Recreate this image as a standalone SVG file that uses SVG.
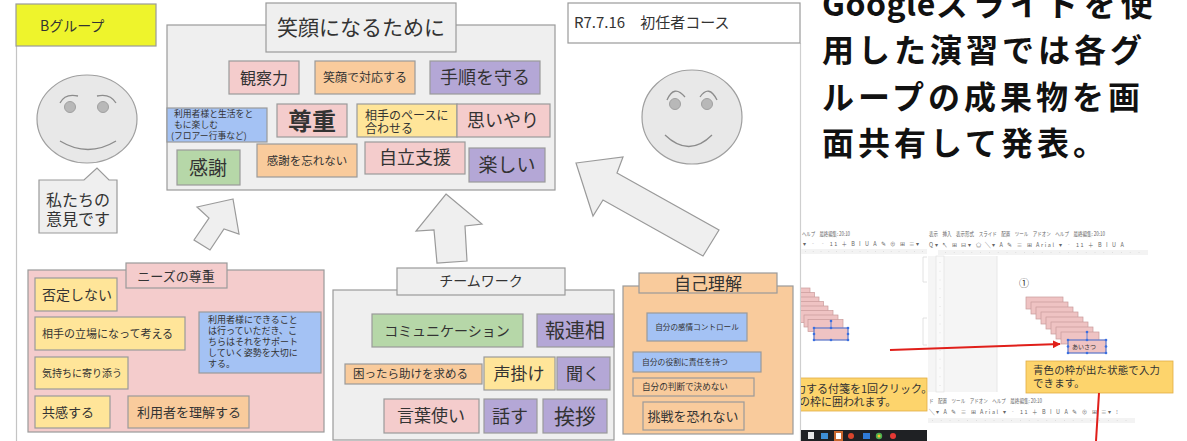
<svg xmlns="http://www.w3.org/2000/svg" width="1187" height="441" viewBox="0 0 1187 441">
  <defs>
    <style>
      .t { font-family: "Noto Sans CJK JP", "Noto Sans", sans-serif; fill: #333; }
      .c { text-anchor: middle; }
      .box { stroke: #9a9a9a; stroke-width: 1.2; }
      .gy { fill: #efefef; }
      .pk { fill: #f4cccc; }
      .or { fill: #f9cb9c; }
      .ye { fill: #ffe599; }
      .gr { fill: #b6d7a8; }
      .pu { fill: #b4a7d6; }
      .bl { fill: #a4c2f4; }
      .face { fill: #e8e8e8; stroke: #9f9f9f; stroke-width: 1.2; }
      .eye { fill: #b8b8b8; stroke: #a0a0a0; stroke-width: 1; }
      .line { fill: none; stroke: #8c8c8c; stroke-width: 1.3; }
      .arrow { fill: #efefef; stroke: #9a9a9a; stroke-width: 1.2; }
      .big { font-family: "Noto Sans CJK JP", sans-serif; font-weight: 700; font-size: 32px; fill: #111; letter-spacing: 4px; }
      .ui { font-family: "Noto Sans CJK JP", sans-serif; font-size: 5.5px; fill: #666; }
      .note { font-family: "Noto Sans CJK JP", sans-serif; fill: #333; }
      .stk { fill: #efc3c3; stroke: #c99a9a; stroke-width: 0.7; }
      .sel { fill: none; stroke: #3b6fe0; stroke-width: 0.9; }
      .hd { fill: #3b6fe0; }
      .red { stroke: #e01f1a; stroke-width: 2; fill: none; }
    </style>
    <marker id="redhead" viewBox="0 0 10 10" refX="9" refY="5" markerWidth="4" markerHeight="4" orient="auto">
      <path d="M0,0 L10,5 L0,10 z" fill="#e01f1a"/>
    </marker>
    <clipPath id="clipA"><rect x="801" y="228" width="127" height="213"/></clipPath>
  </defs>

  <rect width="1187" height="441" fill="#ffffff"/>

  <!-- slide edges -->
  <line x1="16.5" y1="46" x2="16.5" y2="441" stroke="#c4c4c4" stroke-width="1.2"/>
  <line x1="800.5" y1="43" x2="800.5" y2="441" stroke="#cfcfcf" stroke-width="1.2"/>

  <!-- group label -->
  <g id="group-label">
    <rect x="16" y="4" width="140" height="42" fill="#eef42c" class="box"/>
    <text x="40" y="31" class="t" font-size="14">Bグループ</text>
  </g>

  <!-- left face -->
  <g id="face-left">
    <ellipse cx="87" cy="119" rx="50" ry="44" class="face"/>
    <circle cx="70" cy="107" r="5.5" class="eye"/>
    <circle cx="103" cy="107" r="5.5" class="eye"/>
    <path d="M60,103 Q65,93 78,96" class="line"/>
    <path d="M97,96 Q110,93 116,103" class="line"/>
    <path d="M60,141 Q88,158 116,141" class="line"/>
  </g>

  <!-- speech bubble -->
  <g id="bubble">
    <path d="M39,180 H84 L97,168 L109,180 H117 V233 H39 Z" class="gy box"/>
    <text x="46" y="206" class="t" font-size="16">私たちの</text>
    <text x="46" y="225" class="t" font-size="16">意見です</text>
  </g>

  <!-- main board -->
  <g id="board-main">
    <rect x="167" y="25" width="388" height="165" class="gy box"/>
    <rect x="266" y="3" width="190" height="49" class="gy box"/>
    <text x="361" y="35" class="t c" font-size="21">笑顔になるために</text>
  </g>
  <g id="n-kansatsu"><rect x="229" y="61" width="70" height="33" class="pk box"/><text x="264" y="83.5" class="t c" font-size="16">観察力</text></g>
  <g id="n-egao"><rect x="315" y="61" width="100" height="33" class="or box"/><text x="365" y="82" class="t c" font-size="12">笑顔で対応する</text></g>
  <g id="n-tejun"><rect x="430" y="61" width="110" height="33" class="pu box"/><text x="485" y="84" class="t c" font-size="18">手順を守る</text></g>
  <g id="n-tanoshimu"><rect x="167" y="108" width="100" height="34" class="bl box"/>
    <text x="174" y="117" class="t" font-size="8.8">利用者様と生活をと</text>
    <text x="174" y="128" class="t" font-size="8.8">もに楽しむ</text>
    <text x="171" y="139" class="t" font-size="8.8">(フロアー行事など)</text></g>
  <g id="n-sonchou"><rect x="277" y="104" width="70" height="33" class="pk box"/><text x="312" y="129.5" class="t c" font-size="24" font-weight="700">尊重</text></g>
  <g id="n-pace"><rect x="357" y="104" width="100" height="33" class="ye box"/>
    <text x="365" y="120" class="t" font-size="12">相手のペースに</text>
    <text x="365" y="133" class="t" font-size="12">合わせる</text></g>
  <g id="n-omoiyari"><rect x="457" y="104" width="93" height="33" class="pk box"/><text x="503" y="127" class="t c" font-size="18">思いやり</text></g>
  <g id="n-kansha"><rect x="177" y="150" width="63" height="35" class="gr box"/><text x="208" y="175" class="t c" font-size="19">感謝</text></g>
  <g id="n-wasurenai"><rect x="257" y="144" width="100" height="33" class="or box"/><text x="307" y="165" class="t c" font-size="11.5">感謝を忘れない</text></g>
  <g id="n-jiritsu"><rect x="365" y="142" width="100" height="32" class="pk box"/><text x="415" y="164" class="t c" font-size="18">自立支援</text></g>
  <g id="n-tanoshii"><rect x="469" y="148" width="76" height="34" class="pu box"/><text x="507" y="172" class="t c" font-size="19">楽しい</text></g>

  <!-- course label -->
  <g id="course">
    <rect x="568" y="3" width="232" height="40" fill="#ffffff" class="box"/>
    <text x="574" y="28" class="t" font-size="15">R7.7.16　初任者コース</text>
  </g>

  <!-- right face -->
  <g id="face-right">
    <ellipse cx="692" cy="117" rx="50" ry="47" class="face"/>
    <circle cx="675" cy="104" r="5.5" class="eye"/>
    <circle cx="707" cy="104" r="5.5" class="eye"/>
    <path d="M667,100 Q674,84 685,97" class="line"/>
    <path d="M700,97 Q709,84 717,100" class="line"/>
    <path d="M665,135 Q689,158 712,135" class="line"/>
  </g>

  <!-- connectors (block arrows) -->
  <g id="connectors">
    <polygon points="233,199 197,207 209,218 194,240 210,250 224,229 239,234" class="arrow"/>
    <polygon points="446,194 482,224 465,226 467,261 437,263 434,230 416,231" class="arrow"/>
    <polygon points="576,163 623,157 617,173 719,230 703,256 603,200 593,216" class="arrow"/>
  </g>

  <!-- needs board -->
  <g id="board-needs">
    <rect x="28" y="270" width="296" height="162" class="pk box"/>
    <rect x="126" y="263" width="101" height="25" class="pk box"/>
    <text x="176" y="280.5" class="t c" font-size="13">ニーズの尊重</text>
  </g>
  <g id="n-hitei"><rect x="35" y="278" width="82" height="33" class="ye box"/><text x="42" y="299.5" class="t" font-size="14">否定しない</text></g>
  <g id="n-tachiba"><rect x="35" y="317" width="150" height="33" class="ye box"/><text x="42" y="337.5" class="t" font-size="11">相手の立場になって考える</text></g>
  <g id="n-kimochi"><rect x="35" y="357" width="93" height="32" class="ye box"/><text x="42" y="376.5" class="t" font-size="10">気持ちに寄り添う</text></g>
  <g id="n-kyoukan"><rect x="35" y="396" width="75" height="32" class="ye box"/><text x="42" y="416.5" class="t" font-size="13">共感する</text></g>
  <g id="n-rikai"><rect x="128" y="396" width="121" height="32" class="or box"/><text x="137" y="416.5" class="t" font-size="13">利用者を理解する</text></g>
  <g id="n-support"><rect x="199" y="312" width="122" height="61" class="bl box"/>
    <text x="208" y="323" class="t" font-size="9">利用者様にできること</text>
    <text x="208" y="334" class="t" font-size="9">は行っていただき、こ</text>
    <text x="208" y="345" class="t" font-size="9">ちらはそれをサポート</text>
    <text x="208" y="356" class="t" font-size="9">していく姿勢を大切に</text>
    <text x="208" y="367" class="t" font-size="9">する。</text></g>

  <!-- teamwork board -->
  <g id="board-team">
    <rect x="333" y="290" width="281" height="150" class="gy box"/>
    <rect x="397" y="268" width="168" height="27" class="gy box"/>
    <text x="481" y="286" class="t c" font-size="14">チームワーク</text>
  </g>
  <g id="n-comm"><rect x="372" y="314" width="151" height="33" class="gr box"/><text x="447" y="335.5" class="t c" font-size="14">コミュニケーション</text></g>
  <g id="n-hourensou"><rect x="537" y="314" width="77" height="33" class="pu box"/><text x="575" y="337.5" class="t c" font-size="20">報連相</text></g>
  <g id="n-tasuke"><rect x="345" y="364" width="137" height="20" class="or box"/><text x="353" y="378" class="t" font-size="11.5">困ったら助けを求める</text></g>
  <g id="n-koekake"><rect x="484" y="357" width="71" height="33" class="ye box"/><text x="519" y="379.5" class="t c" font-size="17">声掛け</text></g>
  <g id="n-kiku"><rect x="557" y="357" width="53" height="33" class="pu box"/><text x="583" y="379.5" class="t c" font-size="17">聞く</text></g>
  <g id="n-kotoba"><rect x="384" y="399" width="95" height="34" class="pk box"/><text x="431" y="422" class="t c" font-size="17">言葉使い</text></g>
  <g id="n-hanasu"><rect x="484" y="399" width="53" height="34" class="pu box"/><text x="510" y="422.5" class="t c" font-size="18">話す</text></g>
  <g id="n-aisatsu"><rect x="543" y="399" width="64" height="34" class="pu box"/><text x="575" y="424" class="t c" font-size="21">挨拶</text></g>

  <!-- self-understanding board -->
  <g id="board-self">
    <rect x="623" y="286" width="170" height="148" class="or box"/>
    <rect x="639" y="273" width="138" height="20" class="or box"/>
    <text x="708" y="289.5" class="t c" font-size="17">自己理解</text>
  </g>
  <g id="n-kanjou"><rect x="647" y="313" width="100" height="28" class="bl box"/><text x="697" y="329.7" class="t c" font-size="7.6">自分の感情コントロール</text></g>
  <g id="n-sekinin"><rect x="633" y="352" width="128" height="20" class="bl box"/><text x="642" y="364.7" class="t" font-size="7.8">自分の役割に責任を持つ</text></g>
  <g id="n-handan"><rect x="633" y="378" width="121" height="18" class="or box"/><text x="642" y="390" class="t" font-size="8.6">自分の判断で決めない</text></g>
  <g id="n-chousen"><rect x="643" y="402" width="101" height="28" class="or box"/><text x="693" y="420.5" class="t c" font-size="13">挑戦を恐れない</text></g>

  <!-- headline -->
  <g id="headline">
    <text x="822" y="15.5" class="big"><tspan letter-spacing="0.5">Google</tspan><tspan letter-spacing="5">スライドを使</tspan></text>
    <text x="822" y="62" class="big">用した演習では各グ</text>
    <text x="822" y="108.5" class="big">ループの成果物を画</text>
    <text x="822" y="155" class="big">面共有して発表。</text>
  </g>

  <!-- editor screenshots -->
  <g id="shot-left">
    <text x="802" y="236" class="ui" textLength="48" lengthAdjust="spacingAndGlyphs">ヘルプ　最終編集: 20:10</text>
    <text x="803" y="246" class="ui" letter-spacing="1.5">▾ ‐ ‐ 11 ＋ B I U A ✎ ⊕ ⊞ ≡▾</text>
    <rect x="801" y="249" width="126" height="5" fill="#f3f3f3"/>
    <path d="M805,251.5 H925" stroke="#c8c8c8" stroke-width="0.6" stroke-dasharray="0.8,7"/>
    <path d="M923,257 H927 M923,257 V282 H927 M923,318 V345 H927 M923,318 H927" stroke="#dadada" stroke-width="0.8" fill="none"/>
    <g clip-path="url(#clipA)">
      <rect x="790" y="288" width="20" height="12" class="stk"/>
      <rect x="790" y="292.5" width="24.5" height="12" class="stk"/>
      <rect x="790" y="297" width="29" height="12" class="stk"/>
      <rect x="792" y="301.5" width="31.5" height="12" class="stk"/>
      <rect x="796" y="306" width="32" height="12" class="stk"/>
      <rect x="800" y="310.5" width="33" height="12" class="stk"/>
      <rect x="804" y="315" width="34" height="12" class="stk"/>
      <rect x="808" y="319.5" width="35" height="12" class="stk"/>
      <rect x="780" y="378" width="147" height="33" fill="#fdd46c" stroke="#e2ad45" stroke-width="0.8"/>
      <text x="784" y="393" class="note" font-size="11">入力する付箋を1回クリック。</text>
      <text x="777" y="406" class="note" font-size="11">青色の枠に囲われます。</text>
    </g>
    <rect x="814" y="328" width="34" height="12" class="stk"/>
    <rect x="814" y="328" width="34" height="12" class="sel"/>
    <line x1="831" y1="321" x2="831" y2="328" stroke="#3b6fe0" stroke-width="0.8"/>
    <g class="hd">
      <circle cx="831" cy="321" r="1.3"/><circle cx="814" cy="328" r="1.3"/><circle cx="831" cy="328" r="1.3"/><circle cx="848" cy="328" r="1.3"/>
      <circle cx="814" cy="334" r="1.3"/><circle cx="848" cy="334" r="1.3"/>
      <circle cx="814" cy="340" r="1.3"/><circle cx="831" cy="340" r="1.3"/><circle cx="848" cy="340" r="1.3"/>
    </g>
    <rect x="801" y="430" width="126" height="11" fill="#1f2124"/>
    <rect x="808" y="432" width="6" height="7" fill="#e8e8e8"/>
    <rect x="821" y="433" width="7" height="6" fill="#3d8fd6"/>
    <rect x="834" y="431" width="9" height="10" fill="#c9682e"/>
    <rect x="836" y="433" width="5" height="6" fill="#ffffff"/>
    <circle cx="851" cy="436" r="3" fill="#d9452c"/>
    <rect x="863" y="433" width="7" height="6" fill="#2f7bd8"/>
    <circle cx="879" cy="436" r="3.2" fill="#4caf50"/>
    <circle cx="879" cy="436" r="1.5" fill="#fbc02d"/>
    <circle cx="893" cy="436" r="3" fill="#e53935"/>
  </g>

  <g id="shot-middle">
    <text x="929" y="236" class="ui" textLength="176" lengthAdjust="spacingAndGlyphs">表示　挿入　表示形式　スライド　配置　ツール　アドオン　ヘルプ　最終編集: 20:10</text>
    <text x="929" y="247" class="ui" letter-spacing="1.6">Q▾ ↖ ⊞ ⊟▾ ⬠ ╲▾ A ✎ ≡ ⊞  Arial  ▾ ‐ 11 ＋ B I U A</text>
    <rect x="938" y="250" width="210" height="5" fill="#f3f3f3"/>
    <path d="M945,252.5 H1146" stroke="#c8c8c8" stroke-width="0.6" stroke-dasharray="0.8,8"/>
    <rect x="928" y="256" width="69" height="136" fill="#f5f5f5"/>
    <rect x="936" y="256" width="8" height="136" fill="#fafafa" stroke="#dcdcdc" stroke-width="0.6"/>
    <path d="M940,262 V390" stroke="#c8c8c8" stroke-width="0.6" stroke-dasharray="0.8,8"/>
    <line x1="997" y1="256" x2="997" y2="392" stroke="#e2e2e2" stroke-width="0.8"/>
    <text x="1019" y="287" class="note" font-size="10" fill="#555">①</text>
    <rect x="1026" y="297" width="37" height="12" class="stk"/>
    <rect x="1031" y="302" width="37" height="12" class="stk"/>
    <rect x="1036" y="307" width="37" height="12" class="stk"/>
    <rect x="1041" y="312" width="37" height="12" class="stk"/>
    <rect x="1046" y="317" width="37" height="12" class="stk"/>
    <rect x="1051" y="322" width="37" height="12" class="stk"/>
    <rect x="1056" y="327" width="37" height="12" class="stk"/>
    <rect x="1061" y="332" width="38" height="12" class="stk"/>
    <rect x="1068" y="340" width="38" height="13" class="stk"/>
    <rect x="1068" y="340" width="38" height="13" class="sel"/>
    <text x="1072" y="349" class="note" font-size="6">あいさつ</text>
    <line x1="1087" y1="332" x2="1087" y2="340" stroke="#3b6fe0" stroke-width="0.8"/>
    <g class="hd">
      <circle cx="1087" cy="332" r="1.3"/><circle cx="1068" cy="340" r="1.3"/><circle cx="1087" cy="340" r="1.3"/><circle cx="1106" cy="340" r="1.3"/>
      <circle cx="1068" cy="346.5" r="1.3"/><circle cx="1106" cy="346.5" r="1.3"/>
      <circle cx="1068" cy="353" r="1.3"/><circle cx="1087" cy="353" r="1.3"/><circle cx="1106" cy="353" r="1.3"/>
    </g>
    <rect x="1026" y="361" width="147" height="32" fill="#fdd46c" stroke="#e2ad45" stroke-width="0.8"/>
    <text x="1033" y="374" class="note" font-size="10.4" letter-spacing="0.2">青色の枠が出た状態で入力</text>
    <text x="1033" y="387" class="note" font-size="10.4" letter-spacing="0.2">できます。</text>
  </g>

  <g id="shot-bottom">
    <text x="929" y="403" class="ui" textLength="113" lengthAdjust="spacingAndGlyphs">ド　配置　ツール　アドオン　ヘルプ　最終編集: 20:10</text>
    <text x="929" y="414" class="ui" letter-spacing="1.6">╲▾ A ✎ ≡ ⊞  Arial  ▾ ‐ 11 ＋ B I U A ✎ ⊕ ⊞ ≡▾ ⁝</text>
    <rect x="928" y="418" width="207" height="5" fill="#f3f3f3"/>
    <path d="M932,420.5 H1134" stroke="#c8c8c8" stroke-width="0.6" stroke-dasharray="0.8,8"/>
  </g>

  <!-- pointer lines -->
  <g id="pointers">
    <line x1="890" y1="350" x2="1060" y2="344" class="red" marker-end="url(#redhead)"/>
    <line x1="1099" y1="393" x2="1096" y2="441" class="red"/>
  </g>
</svg>
